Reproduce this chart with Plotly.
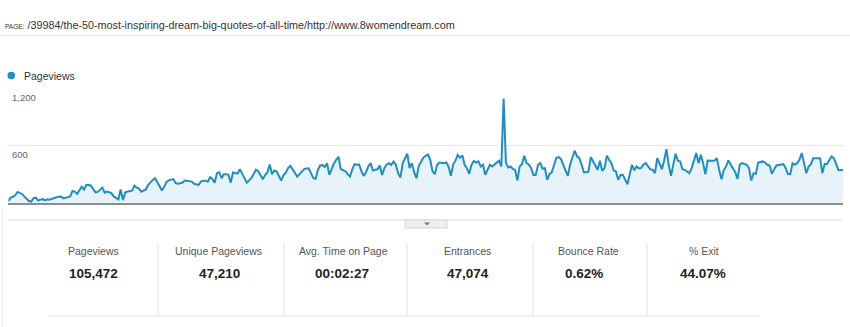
import plotly.graph_objects as go

W, H = 850, 327

# Daily pageviews for the page, one value per day over the year
pageviews = [
    20, 55, 65, 80, 115, 105, 94, 66, 45, 20,
    15, 50, 55, 25, 35, 40, 28, 38, 35, 45,
    55, 60, 65, 68, 48, 55, 60, 68, 125, 118,
    95, 140, 170, 140, 188, 190, 180, 145, 110, 115,
    136, 160, 108, 118, 112, 100, 68, 55, 38, 140,
    30, 110, 120, 125, 128, 180, 160, 150, 118, 130,
    140, 188, 220, 240, 258, 215, 160, 130, 170, 220,
    235, 245, 248, 206, 200, 205, 213, 234, 232, 225,
    222, 200, 192, 188, 222, 232, 230, 222, 268, 250,
    210, 310, 320, 257, 300, 300, 292, 212, 317, 310,
    305, 352, 300, 265, 212, 235, 260, 300, 345, 330,
    290, 247, 290, 320, 400, 299, 338, 330, 280, 233,
    290, 315, 362, 386, 350, 317, 275, 300, 327, 352,
    358, 360, 310, 260, 250, 345, 390, 395, 375, 414,
    292, 362, 410, 449, 480, 352, 340, 330, 300, 275,
    350, 404, 397, 400, 330, 282, 320, 380, 414, 338,
    345, 350, 390, 292, 362, 400, 414, 395, 431, 397,
    310, 265, 414, 470, 512, 362, 414, 320, 257, 386,
    431, 470, 490, 505, 449, 330, 299, 397, 420, 418,
    414, 421, 379, 282, 400, 440, 500, 470, 495, 397,
    362, 303, 397, 438, 421, 432, 379, 397, 292, 345,
    397, 380, 400, 430, 440, 380, 1086, 420, 369, 379,
    355, 345, 233, 380, 404, 491, 414, 400, 362, 292,
    292, 397, 414, 355, 362, 240, 300, 320, 397, 470,
    477, 459, 397, 340, 282, 400, 480, 543, 484, 466,
    400, 320, 320, 325, 477, 432, 380, 345, 438, 334,
    362, 491, 450, 414, 340, 327, 240, 292, 292, 240,
    195, 300, 397, 340, 379, 360, 365, 400, 414, 380,
    350, 344, 310, 466, 410, 352, 442, 560, 397, 282,
    400, 512, 440, 432, 350, 344, 327, 310, 362, 449,
    519, 414, 501, 414, 299, 442, 438, 440, 442, 466,
    344, 247, 340, 380, 442, 397, 352, 320, 250, 400,
    414, 404, 397, 362, 233, 310, 303, 421, 430, 432,
    421, 397, 390, 303, 352, 390, 395, 397, 404, 362,
    300, 299, 414, 397, 414, 449, 519, 414, 310, 379,
    404, 466, 466, 466, 466, 310, 404, 404, 440, 484,
    466, 414, 344, 344, 344,
]
days = list(range(len(pageviews)))

y_ticks = [600, 1200]
y_tick_labels = ["600", "1,200"]

page_path = "/39984/the-50-most-inspiring-dream-big-quotes-of-all-time/http://www.8womendream.com"

kpi_labels = ["Pageviews", "Unique Pageviews", "Avg. Time on Page",
              "Entrances", "Bounce Rate", "% Exit"]
kpi_values = ["105,472", "47,210", "00:02:27", "47,074", "0.62%", "44.07%"]
kpi_label_x = [93, 218, 343, 468, 588, 704]
kpi_value_x = [93, 219, 342, 468, 584, 703]
kpi_separators_x = [158, 284, 407, 533, 647]

LINE = "#1f8ec4"
FILL = "#e8f3f9"
FONT = "Arial, Liberation Sans, sans-serif"


def px(x):
    return x / W


def py(y):
    return 1 - y / H


fig = go.Figure()
fig.add_trace(go.Scatter(
    x=days, y=pageviews, mode="lines",
    line=dict(color=LINE, width=2),
    fill="tozeroy", fillcolor=FILL,
    hoverinfo="skip", showlegend=False,
))

shapes = []
annotations = []

# header rule under the page title
shapes.append(dict(type="line", xref="paper", yref="paper",
                   x0=0, x1=1, y0=py(35.5), y1=py(35.5),
                   line=dict(color="#e6e6e6", width=1)))

# legend dot
shapes.append(dict(type="circle", xref="paper", yref="paper",
                   x0=px(7.5), x1=px(15), y0=py(79.3), y1=py(71.8),
                   fillcolor=LINE, line=dict(width=0)))

# divider below the chart with the collapse tab
shapes.append(dict(type="line", xref="paper", yref="paper",
                   x0=px(8), x1=px(842), y0=py(220), y1=py(220),
                   line=dict(color="#dcdcdc", width=1)))
shapes.append(dict(type="rect", xref="paper", yref="paper",
                   x0=px(405), x1=px(447), y0=py(228), y1=py(220),
                   fillcolor="#efefef", line=dict(color="#d6d6d6", width=1)))
shapes.append(dict(type="path", xref="paper", yref="paper",
                   path=f"M {px(424)},{py(222.5)} L {px(430)},{py(222.5)} L {px(427)},{py(225.5)} Z",
                   fillcolor="#777777", line=dict(width=0)))

# faint left frame line
shapes.append(dict(type="line", xref="paper", yref="paper",
                   x0=px(2.5), x1=px(2.5), y0=py(208), y1=py(327),
                   line=dict(color="#eeeeee", width=1)))

# KPI grid lines
for sx in kpi_separators_x:
    shapes.append(dict(type="line", xref="paper", yref="paper",
                       x0=px(sx), x1=px(sx), y0=py(243), y1=py(316),
                       line=dict(color="#e3e3e3", width=1)))
shapes.append(dict(type="line", xref="paper", yref="paper",
                   x0=px(48), x1=px(760), y0=py(316), y1=py(316),
                   line=dict(color="#e6e6e6", width=1)))

# page title
annotations.append(dict(
    xref="paper", yref="paper", x=px(3), y=py(25.5),
    xanchor="left", yanchor="middle", showarrow=False,
    text=f"<span style='font-size:6.5px'>PAGE:</span> {page_path}",
    font=dict(family=FONT, size=10.8, color="#333333"),
))

# legend label
annotations.append(dict(
    xref="paper", yref="paper", x=px(22), y=py(76),
    xanchor="left", yanchor="middle", showarrow=False,
    text="Pageviews", font=dict(family=FONT, size=10.5, color="#333333"),
))

# y tick labels sit just under their gridlines
for v, lab in zip(y_ticks, y_tick_labels):
    annotations.append(dict(
        xref="paper", yref="y", x=px(9.5), y=v, yshift=-2,
        xanchor="left", yanchor="top", showarrow=False,
        text=lab, font=dict(family=FONT, size=9.5, color="#666666"),
    ))

# KPI labels and values
for lab, val, lx, vx in zip(kpi_labels, kpi_values, kpi_label_x, kpi_value_x):
    annotations.append(dict(
        xref="paper", yref="paper", x=px(lx), y=py(251),
        xanchor="center", yanchor="middle", showarrow=False,
        text=lab, font=dict(family=FONT, size=10.5, color="#555555"),
    ))
    annotations.append(dict(
        xref="paper", yref="paper", x=px(vx), y=py(273.5),
        xanchor="center", yanchor="middle", showarrow=False,
        text=f"<b>{val}</b>", font=dict(family=FONT, size=13.5, color="#222222"),
    ))

fig.update_layout(
    width=W, height=H,
    margin=dict(l=0, r=0, t=0, b=0),
    paper_bgcolor="white", plot_bgcolor="white",
    shapes=shapes, annotations=annotations,
    xaxis=dict(
        domain=[px(8.3), px(843)], range=[0, len(pageviews) - 1],
        showgrid=False, zeroline=False, showticklabels=False, ticks="",
        showline=True, linecolor="#8c8c8c", linewidth=2,
    ),
    yaxis=dict(
        domain=[py(203), py(87.5)], range=[0, 1200],
        tickvals=y_ticks, showticklabels=False, ticks="",
        showgrid=True, gridcolor="#e8e8e8", gridwidth=1,
        zeroline=False, showline=False,
    ),
)

fig.write_html("out.html")
